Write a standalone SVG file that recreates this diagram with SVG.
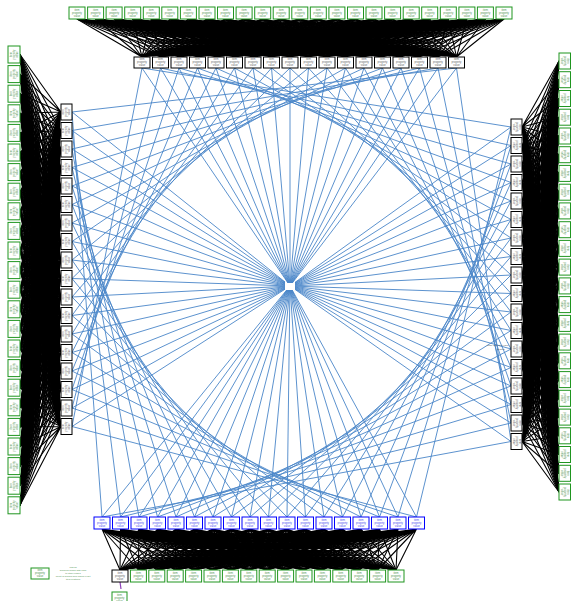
<svg xmlns="http://www.w3.org/2000/svg" xmlns:xlink="http://www.w3.org/1999/xlink" width="571" height="601" viewBox="0 0 571 601">
<style>
.g{fill:#fff;stroke:#1f951f;stroke-width:1}
.k{fill:#fff;stroke:#000;stroke-width:1}
.b{fill:#fff;stroke:#0000ff;stroke-width:1}
.tg{fill:#4f944f}
.tk{fill:#666}
.tb{fill:#4a4af0}
.e path{fill:none;stroke:#4a86c8;stroke-width:0.9}
</style>
<defs>
<g id="lh" font-family="'Liberation Sans',Arial,sans-serif" font-size="2.7" text-anchor="middle"><text x="8" y="3.9">item</text><text x="8" y="6.9">property</text><text x="8" y="9.9">value</text></g>
<use id="lvl" href="#lh" transform="translate(0,16) rotate(-90)"/>
<use id="lvr" href="#lh" transform="translate(12,0) rotate(90)"/>
<path id="fT" fill="none" stroke="#000" stroke-width="1.1" vector-effect="non-scaling-stroke" d="M0 0L77 1M0 0L95.6 1M0 0L114.1 1M0 0L132.7 1M0 0L151.3 1M0 0L169.8 1M0 0L188.4 1M0 0L207 1M0 0L225.5 1M0 0L244.1 1M0 0L262.7 1M0 0L281.2 1M0 0L299.8 1M0 0L318.3 1M0 0L336.9 1M0 0L355.5 1M0 0L374 1M0 0L392.6 1M0 0L411.2 1M0 0L429.7 1M0 0L448.3 1M0 0L466.9 1M0 0L485.4 1M0 0L504 1"/>
<path id="fL" fill="none" stroke="#000" stroke-width="1.1" vector-effect="non-scaling-stroke" d="M0 0L1 54.5M0 0L1 74.1M0 0L1 93.7M0 0L1 113.3M0 0L1 132.9M0 0L1 152.5M0 0L1 172.1M0 0L1 191.7M0 0L1 211.3M0 0L1 230.9M0 0L1 250.5M0 0L1 270.1M0 0L1 289.7M0 0L1 309.3M0 0L1 328.9M0 0L1 348.5M0 0L1 368.1M0 0L1 387.7M0 0L1 407.3M0 0L1 426.9M0 0L1 446.5M0 0L1 466.1M0 0L1 485.7M0 0L1 505.3"/>
<path id="fR" fill="none" stroke="#000" stroke-width="1.1" vector-effect="non-scaling-stroke" d="M0 0L1 61M0 0L1 79.7M0 0L1 98.5M0 0L1 117.2M0 0L1 136M0 0L1 154.7M0 0L1 173.4M0 0L1 192.2M0 0L1 210.9M0 0L1 229.7M0 0L1 248.4M0 0L1 267.1M0 0L1 285.9M0 0L1 304.6M0 0L1 323.4M0 0L1 342.1M0 0L1 360.8M0 0L1 379.6M0 0L1 398.3M0 0L1 417.1M0 0L1 435.8M0 0L1 454.5M0 0L1 473.3M0 0L1 492"/>
<path id="fB" fill="none" stroke="#000" stroke-width="1.1" vector-effect="non-scaling-stroke" d="M0 0L120 1M0 0L138.4 1M0 0L156.8 1M0 0L175.2 1M0 0L193.6 1M0 0L212 1M0 0L230.4 1M0 0L248.8 1M0 0L267.2 1M0 0L285.6 1M0 0L304 1M0 0L322.4 1M0 0L340.8 1M0 0L359.2 1M0 0L377.6 1M0 0L396 1"/>
</defs>
<rect width="571" height="601" fill="#fff"/>
<g id="connectors">
<g id="mesh-top">
<use href="#fT" transform="matrix(1 0 -142 -38 142 57)"/><use href="#fT" transform="matrix(1 0 -160.5 -38 160.5 57)"/><use href="#fT" transform="matrix(1 0 -179 -38 179 57)"/><use href="#fT" transform="matrix(1 0 -197.5 -38 197.5 57)"/><use href="#fT" transform="matrix(1 0 -216 -38 216 57)"/><use href="#fT" transform="matrix(1 0 -234.5 -38 234.5 57)"/><use href="#fT" transform="matrix(1 0 -253 -38 253 57)"/><use href="#fT" transform="matrix(1 0 -271.5 -38 271.5 57)"/><use href="#fT" transform="matrix(1 0 -290 -38 290 57)"/><use href="#fT" transform="matrix(1 0 -308.5 -38 308.5 57)"/><use href="#fT" transform="matrix(1 0 -327 -38 327 57)"/><use href="#fT" transform="matrix(1 0 -345.5 -38 345.5 57)"/><use href="#fT" transform="matrix(1 0 -364 -38 364 57)"/><use href="#fT" transform="matrix(1 0 -382.5 -38 382.5 57)"/><use href="#fT" transform="matrix(1 0 -401 -38 401 57)"/><use href="#fT" transform="matrix(1 0 -419.5 -38 419.5 57)"/><use href="#fT" transform="matrix(1 0 -438 -38 438 57)"/><use href="#fT" transform="matrix(1 0 -456.5 -38 456.5 57)"/>
</g>
<g id="mesh-left">
<use href="#fL" transform="matrix(-41 -112 0 1 61 112)"/><use href="#fL" transform="matrix(-41 -130.5 0 1 61 130.5)"/><use href="#fL" transform="matrix(-41 -149 0 1 61 149)"/><use href="#fL" transform="matrix(-41 -167.5 0 1 61 167.5)"/><use href="#fL" transform="matrix(-41 -186 0 1 61 186)"/><use href="#fL" transform="matrix(-41 -204.5 0 1 61 204.5)"/><use href="#fL" transform="matrix(-41 -223 0 1 61 223)"/><use href="#fL" transform="matrix(-41 -241.5 0 1 61 241.5)"/><use href="#fL" transform="matrix(-41 -260 0 1 61 260)"/><use href="#fL" transform="matrix(-41 -278.5 0 1 61 278.5)"/><use href="#fL" transform="matrix(-41 -297 0 1 61 297)"/><use href="#fL" transform="matrix(-41 -315.5 0 1 61 315.5)"/><use href="#fL" transform="matrix(-41 -334 0 1 61 334)"/><use href="#fL" transform="matrix(-41 -352.5 0 1 61 352.5)"/><use href="#fL" transform="matrix(-41 -371 0 1 61 371)"/><use href="#fL" transform="matrix(-41 -389.5 0 1 61 389.5)"/><use href="#fL" transform="matrix(-41 -408 0 1 61 408)"/><use href="#fL" transform="matrix(-41 -426.5 0 1 61 426.5)"/>
</g>
<g id="mesh-right">
<use href="#fR" transform="matrix(37 -127 0 1 522 127)"/><use href="#fR" transform="matrix(37 -145.5 0 1 522 145.5)"/><use href="#fR" transform="matrix(37 -164 0 1 522 164)"/><use href="#fR" transform="matrix(37 -182.5 0 1 522 182.5)"/><use href="#fR" transform="matrix(37 -201 0 1 522 201)"/><use href="#fR" transform="matrix(37 -219.5 0 1 522 219.5)"/><use href="#fR" transform="matrix(37 -238 0 1 522 238)"/><use href="#fR" transform="matrix(37 -256.5 0 1 522 256.5)"/><use href="#fR" transform="matrix(37 -275 0 1 522 275)"/><use href="#fR" transform="matrix(37 -293.5 0 1 522 293.5)"/><use href="#fR" transform="matrix(37 -312 0 1 522 312)"/><use href="#fR" transform="matrix(37 -330.5 0 1 522 330.5)"/><use href="#fR" transform="matrix(37 -349 0 1 522 349)"/><use href="#fR" transform="matrix(37 -367.5 0 1 522 367.5)"/><use href="#fR" transform="matrix(37 -386 0 1 522 386)"/><use href="#fR" transform="matrix(37 -404.5 0 1 522 404.5)"/><use href="#fR" transform="matrix(37 -423 0 1 522 423)"/><use href="#fR" transform="matrix(37 -441.5 0 1 522 441.5)"/>
</g>
<g id="mesh-bottom">
<use href="#fB" transform="matrix(1 0 -102 41 102 529)"/><use href="#fB" transform="matrix(1 0 -120.5 41 120.5 529)"/><use href="#fB" transform="matrix(1 0 -139 41 139 529)"/><use href="#fB" transform="matrix(1 0 -157.5 41 157.5 529)"/><use href="#fB" transform="matrix(1 0 -176 41 176 529)"/><use href="#fB" transform="matrix(1 0 -194.5 41 194.5 529)"/><use href="#fB" transform="matrix(1 0 -213 41 213 529)"/><use href="#fB" transform="matrix(1 0 -231.5 41 231.5 529)"/><use href="#fB" transform="matrix(1 0 -250 41 250 529)"/><use href="#fB" transform="matrix(1 0 -268.5 41 268.5 529)"/><use href="#fB" transform="matrix(1 0 -287 41 287 529)"/><use href="#fB" transform="matrix(1 0 -305.5 41 305.5 529)"/><use href="#fB" transform="matrix(1 0 -324 41 324 529)"/><use href="#fB" transform="matrix(1 0 -342.5 41 342.5 529)"/><use href="#fB" transform="matrix(1 0 -361 41 361 529)"/><use href="#fB" transform="matrix(1 0 -379.5 41 379.5 529)"/><use href="#fB" transform="matrix(1 0 -398 41 398 529)"/><use href="#fB" transform="matrix(1 0 -416.5 41 416.5 529)"/>
</g>
<g class="e" id="blue-edges">
<path d="M142 68L288 283"/><path d="M160.5 68L288.2 283"/><path d="M179 68L288.5 283"/><path d="M197.5 68L288.7 283"/><path d="M216 68L289 283"/><path d="M234.5 68L289.2 283"/><path d="M253 68L289.5 283"/><path d="M271.5 68L289.7 283"/><path d="M290 68L290 283"/><path d="M308.5 68L290.3 283"/><path d="M327 68L290.5 283"/><path d="M345.5 68L290.8 283"/><path d="M364 68L291 283"/><path d="M382.5 68L291.3 283"/><path d="M401 68L291.5 283"/><path d="M419.5 68L291.8 283"/><path d="M438 68L292 283"/><path d="M456.5 68L292.3 283"/>
<path d="M102 517L286.7 290"/><path d="M120.5 517L287.1 290"/><path d="M139 517L287.4 290"/><path d="M157.5 517L287.7 290"/><path d="M176 517L288 290"/><path d="M194.5 517L288.3 290"/><path d="M213 517L288.7 290"/><path d="M231.5 517L289 290"/><path d="M250 517L289.3 290"/><path d="M268.5 517L289.6 290"/><path d="M287 517L289.9 290"/><path d="M305.5 517L290.3 290"/><path d="M324 517L290.6 290"/><path d="M342.5 517L290.9 290"/><path d="M361 517L291.2 290"/><path d="M379.5 517L291.5 290"/><path d="M398 517L291.9 290"/><path d="M416.5 517L292.2 290"/>
<path d="M72 112L285 282"/><path d="M72 130.5L285 282.4"/><path d="M72 149L285 282.8"/><path d="M72 167.5L285 283.3"/><path d="M72 186L285 283.7"/><path d="M72 204.5L285 284.1"/><path d="M72 223L285 284.6"/><path d="M72 241.5L285 285"/><path d="M72 260L285 285.4"/><path d="M72 278.5L285 285.8"/><path d="M72 297L285 286.3"/><path d="M72 315.5L285 286.7"/><path d="M72 334L285 287.1"/><path d="M72 352.5L285 287.5"/><path d="M72 371L285 288"/><path d="M72 389.5L285 288.4"/><path d="M72 408L285 288.8"/><path d="M72 426.5L285 289.2"/>
<path d="M511 127L295 282.4"/><path d="M511 145.5L295 282.8"/><path d="M511 164L295 283.2"/><path d="M511 182.5L295 283.6"/><path d="M511 201L295 284.1"/><path d="M511 219.5L295 284.5"/><path d="M511 238L295 284.9"/><path d="M511 256.5L295 285.3"/><path d="M511 275L295 285.8"/><path d="M511 293.5L295 286.2"/><path d="M511 312L295 286.6"/><path d="M511 330.5L295 287"/><path d="M511 349L295 287.4"/><path d="M511 367.5L295 287.8"/><path d="M511 386L295 288.2"/><path d="M511 404.5L295 288.6"/><path d="M511 423L295 289"/><path d="M511 441.5L295 289.4"/>
<path d="M142 68L72 426.5"/><path d="M160.5 68L72 408"/><path d="M179 68L72 389.5"/><path d="M197.5 68L72 371"/><path d="M216 68L72 352.5"/><path d="M234.5 68L72 334"/><path d="M253 68L72 315.5"/><path d="M271.5 68L72 297"/><path d="M290 68L72 278.5"/><path d="M308.5 68L72 260"/><path d="M327 68L72 241.5"/><path d="M345.5 68L72 223"/><path d="M364 68L72 204.5"/><path d="M382.5 68L72 186"/><path d="M401 68L72 167.5"/><path d="M419.5 68L72 149"/><path d="M438 68L72 130.5"/><path d="M456.5 68L72 112"/>
<path d="M142 68L511 127"/><path d="M160.5 68L511 145.5"/><path d="M179 68L511 164"/><path d="M197.5 68L511 182.5"/><path d="M216 68L511 201"/><path d="M234.5 68L511 219.5"/><path d="M253 68L511 238"/><path d="M271.5 68L511 256.5"/><path d="M290 68L511 275"/><path d="M308.5 68L511 293.5"/><path d="M327 68L511 312"/><path d="M345.5 68L511 330.5"/><path d="M364 68L511 349"/><path d="M382.5 68L511 367.5"/><path d="M401 68L511 386"/><path d="M419.5 68L511 404.5"/><path d="M438 68L511 423"/><path d="M456.5 68L511 441.5"/>
<path d="M102 517L72 112"/><path d="M120.5 517L72 130.5"/><path d="M139 517L72 149"/><path d="M157.5 517L72 167.5"/><path d="M176 517L72 186"/><path d="M194.5 517L72 204.5"/><path d="M213 517L72 223"/><path d="M231.5 517L72 241.5"/><path d="M250 517L72 260"/><path d="M268.5 517L72 278.5"/><path d="M287 517L72 297"/><path d="M305.5 517L72 315.5"/><path d="M324 517L72 334"/><path d="M342.5 517L72 352.5"/><path d="M361 517L72 371"/><path d="M379.5 517L72 389.5"/><path d="M398 517L72 408"/><path d="M416.5 517L72 426.5"/>
<path d="M102 517L511 441.5"/><path d="M120.5 517L511 423"/><path d="M139 517L511 404.5"/><path d="M157.5 517L511 386"/><path d="M176 517L511 367.5"/><path d="M194.5 517L511 349"/><path d="M213 517L511 330.5"/><path d="M231.5 517L511 312"/><path d="M250 517L511 293.5"/><path d="M268.5 517L511 275"/><path d="M287 517L511 256.5"/><path d="M305.5 517L511 238"/><path d="M324 517L511 219.5"/><path d="M342.5 517L511 201"/><path d="M361 517L511 182.5"/><path d="M379.5 517L511 164"/><path d="M398 517L511 145.5"/><path d="M416.5 517L511 127"/>
</g>
<path id="purple-edge" d="M120 582L121 589" fill="none" stroke="#8e3fb8" stroke-width="1.2"/>
</g>
<g id="nodes-top-green">
<g id="tg0"><rect class="g" x="69" y="7" width="16" height="12"/><use href="#lh" class="tg" x="69" y="7"/></g>
<g id="tg1"><rect class="g" x="87.6" y="7" width="16" height="12"/><use href="#lh" class="tg" x="87.6" y="7"/></g>
<g id="tg2"><rect class="g" x="106.1" y="7" width="16" height="12"/><use href="#lh" class="tg" x="106.1" y="7"/></g>
<g id="tg3"><rect class="g" x="124.7" y="7" width="16" height="12"/><use href="#lh" class="tg" x="124.7" y="7"/></g>
<g id="tg4"><rect class="g" x="143.3" y="7" width="16" height="12"/><use href="#lh" class="tg" x="143.3" y="7"/></g>
<g id="tg5"><rect class="g" x="161.8" y="7" width="16" height="12"/><use href="#lh" class="tg" x="161.8" y="7"/></g>
<g id="tg6"><rect class="g" x="180.4" y="7" width="16" height="12"/><use href="#lh" class="tg" x="180.4" y="7"/></g>
<g id="tg7"><rect class="g" x="199" y="7" width="16" height="12"/><use href="#lh" class="tg" x="199" y="7"/></g>
<g id="tg8"><rect class="g" x="217.5" y="7" width="16" height="12"/><use href="#lh" class="tg" x="217.5" y="7"/></g>
<g id="tg9"><rect class="g" x="236.1" y="7" width="16" height="12"/><use href="#lh" class="tg" x="236.1" y="7"/></g>
<g id="tg10"><rect class="g" x="254.7" y="7" width="16" height="12"/><use href="#lh" class="tg" x="254.7" y="7"/></g>
<g id="tg11"><rect class="g" x="273.2" y="7" width="16" height="12"/><use href="#lh" class="tg" x="273.2" y="7"/></g>
<g id="tg12"><rect class="g" x="291.8" y="7" width="16" height="12"/><use href="#lh" class="tg" x="291.8" y="7"/></g>
<g id="tg13"><rect class="g" x="310.3" y="7" width="16" height="12"/><use href="#lh" class="tg" x="310.3" y="7"/></g>
<g id="tg14"><rect class="g" x="328.9" y="7" width="16" height="12"/><use href="#lh" class="tg" x="328.9" y="7"/></g>
<g id="tg15"><rect class="g" x="347.5" y="7" width="16" height="12"/><use href="#lh" class="tg" x="347.5" y="7"/></g>
<g id="tg16"><rect class="g" x="366" y="7" width="16" height="12"/><use href="#lh" class="tg" x="366" y="7"/></g>
<g id="tg17"><rect class="g" x="384.6" y="7" width="16" height="12"/><use href="#lh" class="tg" x="384.6" y="7"/></g>
<g id="tg18"><rect class="g" x="403.2" y="7" width="16" height="12"/><use href="#lh" class="tg" x="403.2" y="7"/></g>
<g id="tg19"><rect class="g" x="421.7" y="7" width="16" height="12"/><use href="#lh" class="tg" x="421.7" y="7"/></g>
<g id="tg20"><rect class="g" x="440.3" y="7" width="16" height="12"/><use href="#lh" class="tg" x="440.3" y="7"/></g>
<g id="tg21"><rect class="g" x="458.9" y="7" width="16" height="12"/><use href="#lh" class="tg" x="458.9" y="7"/></g>
<g id="tg22"><rect class="g" x="477.4" y="7" width="16" height="12"/><use href="#lh" class="tg" x="477.4" y="7"/></g>
<g id="tg23"><rect class="g" x="496" y="7" width="16" height="12"/><use href="#lh" class="tg" x="496" y="7"/></g>
</g>
<g id="nodes-top-black">
<g id="tk0"><rect class="k" x="134" y="57" width="16" height="11"/><use href="#lh" class="tk" x="134" y="56.5"/></g>
<g id="tk1"><rect class="k" x="152.5" y="57" width="16" height="11"/><use href="#lh" class="tk" x="152.5" y="56.5"/></g>
<g id="tk2"><rect class="k" x="171" y="57" width="16" height="11"/><use href="#lh" class="tk" x="171" y="56.5"/></g>
<g id="tk3"><rect class="k" x="189.5" y="57" width="16" height="11"/><use href="#lh" class="tk" x="189.5" y="56.5"/></g>
<g id="tk4"><rect class="k" x="208" y="57" width="16" height="11"/><use href="#lh" class="tk" x="208" y="56.5"/></g>
<g id="tk5"><rect class="k" x="226.5" y="57" width="16" height="11"/><use href="#lh" class="tk" x="226.5" y="56.5"/></g>
<g id="tk6"><rect class="k" x="245" y="57" width="16" height="11"/><use href="#lh" class="tk" x="245" y="56.5"/></g>
<g id="tk7"><rect class="k" x="263.5" y="57" width="16" height="11"/><use href="#lh" class="tk" x="263.5" y="56.5"/></g>
<g id="tk8"><rect class="k" x="282" y="57" width="16" height="11"/><use href="#lh" class="tk" x="282" y="56.5"/></g>
<g id="tk9"><rect class="k" x="300.5" y="57" width="16" height="11"/><use href="#lh" class="tk" x="300.5" y="56.5"/></g>
<g id="tk10"><rect class="k" x="319" y="57" width="16" height="11"/><use href="#lh" class="tk" x="319" y="56.5"/></g>
<g id="tk11"><rect class="k" x="337.5" y="57" width="16" height="11"/><use href="#lh" class="tk" x="337.5" y="56.5"/></g>
<g id="tk12"><rect class="k" x="356" y="57" width="16" height="11"/><use href="#lh" class="tk" x="356" y="56.5"/></g>
<g id="tk13"><rect class="k" x="374.5" y="57" width="16" height="11"/><use href="#lh" class="tk" x="374.5" y="56.5"/></g>
<g id="tk14"><rect class="k" x="393" y="57" width="16" height="11"/><use href="#lh" class="tk" x="393" y="56.5"/></g>
<g id="tk15"><rect class="k" x="411.5" y="57" width="16" height="11"/><use href="#lh" class="tk" x="411.5" y="56.5"/></g>
<g id="tk16"><rect class="k" x="430" y="57" width="16" height="11"/><use href="#lh" class="tk" x="430" y="56.5"/></g>
<g id="tk17"><rect class="k" x="448.5" y="57" width="16" height="11"/><use href="#lh" class="tk" x="448.5" y="56.5"/></g>
</g>
<g id="nodes-left-green">
<g id="lg0"><rect class="g" x="8" y="46" width="12" height="17"/><use href="#lvl" class="tg" x="8" y="46.5"/></g>
<g id="lg1"><rect class="g" x="8" y="65.6" width="12" height="17"/><use href="#lvl" class="tg" x="8" y="66.1"/></g>
<g id="lg2"><rect class="g" x="8" y="85.2" width="12" height="17"/><use href="#lvl" class="tg" x="8" y="85.7"/></g>
<g id="lg3"><rect class="g" x="8" y="104.8" width="12" height="17"/><use href="#lvl" class="tg" x="8" y="105.3"/></g>
<g id="lg4"><rect class="g" x="8" y="124.4" width="12" height="17"/><use href="#lvl" class="tg" x="8" y="124.9"/></g>
<g id="lg5"><rect class="g" x="8" y="144" width="12" height="17"/><use href="#lvl" class="tg" x="8" y="144.5"/></g>
<g id="lg6"><rect class="g" x="8" y="163.6" width="12" height="17"/><use href="#lvl" class="tg" x="8" y="164.1"/></g>
<g id="lg7"><rect class="g" x="8" y="183.2" width="12" height="17"/><use href="#lvl" class="tg" x="8" y="183.7"/></g>
<g id="lg8"><rect class="g" x="8" y="202.8" width="12" height="17"/><use href="#lvl" class="tg" x="8" y="203.3"/></g>
<g id="lg9"><rect class="g" x="8" y="222.4" width="12" height="17"/><use href="#lvl" class="tg" x="8" y="222.9"/></g>
<g id="lg10"><rect class="g" x="8" y="242" width="12" height="17"/><use href="#lvl" class="tg" x="8" y="242.5"/></g>
<g id="lg11"><rect class="g" x="8" y="261.6" width="12" height="17"/><use href="#lvl" class="tg" x="8" y="262.1"/></g>
<g id="lg12"><rect class="g" x="8" y="281.2" width="12" height="17"/><use href="#lvl" class="tg" x="8" y="281.7"/></g>
<g id="lg13"><rect class="g" x="8" y="300.8" width="12" height="17"/><use href="#lvl" class="tg" x="8" y="301.3"/></g>
<g id="lg14"><rect class="g" x="8" y="320.4" width="12" height="17"/><use href="#lvl" class="tg" x="8" y="320.9"/></g>
<g id="lg15"><rect class="g" x="8" y="340" width="12" height="17"/><use href="#lvl" class="tg" x="8" y="340.5"/></g>
<g id="lg16"><rect class="g" x="8" y="359.6" width="12" height="17"/><use href="#lvl" class="tg" x="8" y="360.1"/></g>
<g id="lg17"><rect class="g" x="8" y="379.2" width="12" height="17"/><use href="#lvl" class="tg" x="8" y="379.7"/></g>
<g id="lg18"><rect class="g" x="8" y="398.8" width="12" height="17"/><use href="#lvl" class="tg" x="8" y="399.3"/></g>
<g id="lg19"><rect class="g" x="8" y="418.4" width="12" height="17"/><use href="#lvl" class="tg" x="8" y="418.9"/></g>
<g id="lg20"><rect class="g" x="8" y="438" width="12" height="17"/><use href="#lvl" class="tg" x="8" y="438.5"/></g>
<g id="lg21"><rect class="g" x="8" y="457.6" width="12" height="17"/><use href="#lvl" class="tg" x="8" y="458.1"/></g>
<g id="lg22"><rect class="g" x="8" y="477.2" width="12" height="17"/><use href="#lvl" class="tg" x="8" y="477.7"/></g>
<g id="lg23"><rect class="g" x="8" y="496.8" width="12" height="17"/><use href="#lvl" class="tg" x="8" y="497.3"/></g>
</g>
<g id="nodes-left-black">
<g id="lk0"><rect class="k" x="61" y="104" width="11" height="16"/><use href="#lvl" class="tk" x="60.5" y="104"/></g>
<g id="lk1"><rect class="k" x="61" y="122.5" width="11" height="16"/><use href="#lvl" class="tk" x="60.5" y="122.5"/></g>
<g id="lk2"><rect class="k" x="61" y="141" width="11" height="16"/><use href="#lvl" class="tk" x="60.5" y="141"/></g>
<g id="lk3"><rect class="k" x="61" y="159.5" width="11" height="16"/><use href="#lvl" class="tk" x="60.5" y="159.5"/></g>
<g id="lk4"><rect class="k" x="61" y="178" width="11" height="16"/><use href="#lvl" class="tk" x="60.5" y="178"/></g>
<g id="lk5"><rect class="k" x="61" y="196.5" width="11" height="16"/><use href="#lvl" class="tk" x="60.5" y="196.5"/></g>
<g id="lk6"><rect class="k" x="61" y="215" width="11" height="16"/><use href="#lvl" class="tk" x="60.5" y="215"/></g>
<g id="lk7"><rect class="k" x="61" y="233.5" width="11" height="16"/><use href="#lvl" class="tk" x="60.5" y="233.5"/></g>
<g id="lk8"><rect class="k" x="61" y="252" width="11" height="16"/><use href="#lvl" class="tk" x="60.5" y="252"/></g>
<g id="lk9"><rect class="k" x="61" y="270.5" width="11" height="16"/><use href="#lvl" class="tk" x="60.5" y="270.5"/></g>
<g id="lk10"><rect class="k" x="61" y="289" width="11" height="16"/><use href="#lvl" class="tk" x="60.5" y="289"/></g>
<g id="lk11"><rect class="k" x="61" y="307.5" width="11" height="16"/><use href="#lvl" class="tk" x="60.5" y="307.5"/></g>
<g id="lk12"><rect class="k" x="61" y="326" width="11" height="16"/><use href="#lvl" class="tk" x="60.5" y="326"/></g>
<g id="lk13"><rect class="k" x="61" y="344.5" width="11" height="16"/><use href="#lvl" class="tk" x="60.5" y="344.5"/></g>
<g id="lk14"><rect class="k" x="61" y="363" width="11" height="16"/><use href="#lvl" class="tk" x="60.5" y="363"/></g>
<g id="lk15"><rect class="k" x="61" y="381.5" width="11" height="16"/><use href="#lvl" class="tk" x="60.5" y="381.5"/></g>
<g id="lk16"><rect class="k" x="61" y="400" width="11" height="16"/><use href="#lvl" class="tk" x="60.5" y="400"/></g>
<g id="lk17"><rect class="k" x="61" y="418.5" width="11" height="16"/><use href="#lvl" class="tk" x="60.5" y="418.5"/></g>
</g>
<g id="nodes-right-black">
<g id="rk0"><rect class="k" x="511" y="119" width="11" height="16"/><use href="#lvr" class="tk" x="510.5" y="119"/></g>
<g id="rk1"><rect class="k" x="511" y="137.5" width="11" height="16"/><use href="#lvr" class="tk" x="510.5" y="137.5"/></g>
<g id="rk2"><rect class="k" x="511" y="156" width="11" height="16"/><use href="#lvr" class="tk" x="510.5" y="156"/></g>
<g id="rk3"><rect class="k" x="511" y="174.5" width="11" height="16"/><use href="#lvr" class="tk" x="510.5" y="174.5"/></g>
<g id="rk4"><rect class="k" x="511" y="193" width="11" height="16"/><use href="#lvr" class="tk" x="510.5" y="193"/></g>
<g id="rk5"><rect class="k" x="511" y="211.5" width="11" height="16"/><use href="#lvr" class="tk" x="510.5" y="211.5"/></g>
<g id="rk6"><rect class="k" x="511" y="230" width="11" height="16"/><use href="#lvr" class="tk" x="510.5" y="230"/></g>
<g id="rk7"><rect class="k" x="511" y="248.5" width="11" height="16"/><use href="#lvr" class="tk" x="510.5" y="248.5"/></g>
<g id="rk8"><rect class="k" x="511" y="267" width="11" height="16"/><use href="#lvr" class="tk" x="510.5" y="267"/></g>
<g id="rk9"><rect class="k" x="511" y="285.5" width="11" height="16"/><use href="#lvr" class="tk" x="510.5" y="285.5"/></g>
<g id="rk10"><rect class="k" x="511" y="304" width="11" height="16"/><use href="#lvr" class="tk" x="510.5" y="304"/></g>
<g id="rk11"><rect class="k" x="511" y="322.5" width="11" height="16"/><use href="#lvr" class="tk" x="510.5" y="322.5"/></g>
<g id="rk12"><rect class="k" x="511" y="341" width="11" height="16"/><use href="#lvr" class="tk" x="510.5" y="341"/></g>
<g id="rk13"><rect class="k" x="511" y="359.5" width="11" height="16"/><use href="#lvr" class="tk" x="510.5" y="359.5"/></g>
<g id="rk14"><rect class="k" x="511" y="378" width="11" height="16"/><use href="#lvr" class="tk" x="510.5" y="378"/></g>
<g id="rk15"><rect class="k" x="511" y="396.5" width="11" height="16"/><use href="#lvr" class="tk" x="510.5" y="396.5"/></g>
<g id="rk16"><rect class="k" x="511" y="415" width="11" height="16"/><use href="#lvr" class="tk" x="510.5" y="415"/></g>
<g id="rk17"><rect class="k" x="511" y="433.5" width="11" height="16"/><use href="#lvr" class="tk" x="510.5" y="433.5"/></g>
</g>
<g id="nodes-right-green">
<g id="rg0"><rect class="g" x="559" y="53" width="11.5" height="16"/><use href="#lvr" class="tg" x="559" y="53"/></g>
<g id="rg1"><rect class="g" x="559" y="71.7" width="11.5" height="16"/><use href="#lvr" class="tg" x="559" y="71.7"/></g>
<g id="rg2"><rect class="g" x="559" y="90.5" width="11.5" height="16"/><use href="#lvr" class="tg" x="559" y="90.5"/></g>
<g id="rg3"><rect class="g" x="559" y="109.2" width="11.5" height="16"/><use href="#lvr" class="tg" x="559" y="109.2"/></g>
<g id="rg4"><rect class="g" x="559" y="128" width="11.5" height="16"/><use href="#lvr" class="tg" x="559" y="128"/></g>
<g id="rg5"><rect class="g" x="559" y="146.7" width="11.5" height="16"/><use href="#lvr" class="tg" x="559" y="146.7"/></g>
<g id="rg6"><rect class="g" x="559" y="165.4" width="11.5" height="16"/><use href="#lvr" class="tg" x="559" y="165.4"/></g>
<g id="rg7"><rect class="g" x="559" y="184.2" width="11.5" height="16"/><use href="#lvr" class="tg" x="559" y="184.2"/></g>
<g id="rg8"><rect class="g" x="559" y="202.9" width="11.5" height="16"/><use href="#lvr" class="tg" x="559" y="202.9"/></g>
<g id="rg9"><rect class="g" x="559" y="221.7" width="11.5" height="16"/><use href="#lvr" class="tg" x="559" y="221.7"/></g>
<g id="rg10"><rect class="g" x="559" y="240.4" width="11.5" height="16"/><use href="#lvr" class="tg" x="559" y="240.4"/></g>
<g id="rg11"><rect class="g" x="559" y="259.1" width="11.5" height="16"/><use href="#lvr" class="tg" x="559" y="259.1"/></g>
<g id="rg12"><rect class="g" x="559" y="277.9" width="11.5" height="16"/><use href="#lvr" class="tg" x="559" y="277.9"/></g>
<g id="rg13"><rect class="g" x="559" y="296.6" width="11.5" height="16"/><use href="#lvr" class="tg" x="559" y="296.6"/></g>
<g id="rg14"><rect class="g" x="559" y="315.4" width="11.5" height="16"/><use href="#lvr" class="tg" x="559" y="315.4"/></g>
<g id="rg15"><rect class="g" x="559" y="334.1" width="11.5" height="16"/><use href="#lvr" class="tg" x="559" y="334.1"/></g>
<g id="rg16"><rect class="g" x="559" y="352.8" width="11.5" height="16"/><use href="#lvr" class="tg" x="559" y="352.8"/></g>
<g id="rg17"><rect class="g" x="559" y="371.6" width="11.5" height="16"/><use href="#lvr" class="tg" x="559" y="371.6"/></g>
<g id="rg18"><rect class="g" x="559" y="390.3" width="11.5" height="16"/><use href="#lvr" class="tg" x="559" y="390.3"/></g>
<g id="rg19"><rect class="g" x="559" y="409.1" width="11.5" height="16"/><use href="#lvr" class="tg" x="559" y="409.1"/></g>
<g id="rg20"><rect class="g" x="559" y="427.8" width="11.5" height="16"/><use href="#lvr" class="tg" x="559" y="427.8"/></g>
<g id="rg21"><rect class="g" x="559" y="446.5" width="11.5" height="16"/><use href="#lvr" class="tg" x="559" y="446.5"/></g>
<g id="rg22"><rect class="g" x="559" y="465.3" width="11.5" height="16"/><use href="#lvr" class="tg" x="559" y="465.3"/></g>
<g id="rg23"><rect class="g" x="559" y="484" width="11.5" height="16"/><use href="#lvr" class="tg" x="559" y="484"/></g>
</g>
<g id="nodes-bottom-blue">
<g id="bb0"><rect class="b" x="94" y="517" width="16" height="12"/><use href="#lh" class="tb" x="94" y="517"/></g>
<g id="bb1"><rect class="b" x="112.5" y="517" width="16" height="12"/><use href="#lh" class="tb" x="112.5" y="517"/></g>
<g id="bb2"><rect class="b" x="131" y="517" width="16" height="12"/><use href="#lh" class="tb" x="131" y="517"/></g>
<g id="bb3"><rect class="b" x="149.5" y="517" width="16" height="12"/><use href="#lh" class="tb" x="149.5" y="517"/></g>
<g id="bb4"><rect class="b" x="168" y="517" width="16" height="12"/><use href="#lh" class="tb" x="168" y="517"/></g>
<g id="bb5"><rect class="b" x="186.5" y="517" width="16" height="12"/><use href="#lh" class="tb" x="186.5" y="517"/></g>
<g id="bb6"><rect class="b" x="205" y="517" width="16" height="12"/><use href="#lh" class="tb" x="205" y="517"/></g>
<g id="bb7"><rect class="b" x="223.5" y="517" width="16" height="12"/><use href="#lh" class="tb" x="223.5" y="517"/></g>
<g id="bb8"><rect class="b" x="242" y="517" width="16" height="12"/><use href="#lh" class="tb" x="242" y="517"/></g>
<g id="bb9"><rect class="b" x="260.5" y="517" width="16" height="12"/><use href="#lh" class="tb" x="260.5" y="517"/></g>
<g id="bb10"><rect class="b" x="279" y="517" width="16" height="12"/><use href="#lh" class="tb" x="279" y="517"/></g>
<g id="bb11"><rect class="b" x="297.5" y="517" width="16" height="12"/><use href="#lh" class="tb" x="297.5" y="517"/></g>
<g id="bb12"><rect class="b" x="316" y="517" width="16" height="12"/><use href="#lh" class="tb" x="316" y="517"/></g>
<g id="bb13"><rect class="b" x="334.5" y="517" width="16" height="12"/><use href="#lh" class="tb" x="334.5" y="517"/></g>
<g id="bb14"><rect class="b" x="353" y="517" width="16" height="12"/><use href="#lh" class="tb" x="353" y="517"/></g>
<g id="bb15"><rect class="b" x="371.5" y="517" width="16" height="12"/><use href="#lh" class="tb" x="371.5" y="517"/></g>
<g id="bb16"><rect class="b" x="390" y="517" width="16" height="12"/><use href="#lh" class="tb" x="390" y="517"/></g>
<g id="bb17"><rect class="b" x="408.5" y="517" width="16" height="12"/><use href="#lh" class="tb" x="408.5" y="517"/></g>
</g>
<g id="nodes-bottom-green">
<g id="bg0"><rect class="k" x="112" y="570" width="16" height="12"/><use href="#lh" class="tk" x="112" y="570"/></g>
<g id="bg1"><rect class="g" x="130.4" y="570" width="16" height="12"/><use href="#lh" class="tg" x="130.4" y="570"/></g>
<g id="bg2"><rect class="g" x="148.8" y="570" width="16" height="12"/><use href="#lh" class="tg" x="148.8" y="570"/></g>
<g id="bg3"><rect class="g" x="167.2" y="570" width="16" height="12"/><use href="#lh" class="tg" x="167.2" y="570"/></g>
<g id="bg4"><rect class="g" x="185.6" y="570" width="16" height="12"/><use href="#lh" class="tg" x="185.6" y="570"/></g>
<g id="bg5"><rect class="g" x="204" y="570" width="16" height="12"/><use href="#lh" class="tg" x="204" y="570"/></g>
<g id="bg6"><rect class="g" x="222.4" y="570" width="16" height="12"/><use href="#lh" class="tg" x="222.4" y="570"/></g>
<g id="bg7"><rect class="g" x="240.8" y="570" width="16" height="12"/><use href="#lh" class="tg" x="240.8" y="570"/></g>
<g id="bg8"><rect class="g" x="259.2" y="570" width="16" height="12"/><use href="#lh" class="tg" x="259.2" y="570"/></g>
<g id="bg9"><rect class="g" x="277.6" y="570" width="16" height="12"/><use href="#lh" class="tg" x="277.6" y="570"/></g>
<g id="bg10"><rect class="g" x="296" y="570" width="16" height="12"/><use href="#lh" class="tg" x="296" y="570"/></g>
<g id="bg11"><rect class="g" x="314.4" y="570" width="16" height="12"/><use href="#lh" class="tg" x="314.4" y="570"/></g>
<g id="bg12"><rect class="g" x="332.8" y="570" width="16" height="12"/><use href="#lh" class="tg" x="332.8" y="570"/></g>
<g id="bg13"><rect class="g" x="351.2" y="570" width="16" height="12"/><use href="#lh" class="tg" x="351.2" y="570"/></g>
<g id="bg14"><rect class="g" x="369.6" y="570" width="16" height="12"/><use href="#lh" class="tg" x="369.6" y="570"/></g>
<g id="bg15"><rect class="g" x="388" y="570" width="16" height="12"/><use href="#lh" class="tg" x="388" y="570"/></g>
<g id="bx0"><rect class="g" x="112" y="592" width="15" height="12"/><use href="#lh" class="tg" x="111.5" y="592"/></g>
</g>
<g id="legend">
<rect class="g" x="31" y="568" width="18" height="11"/><use href="#lh" class="tg" x="32" y="567.5"/>
<g font-family="'Liberation Sans',Arial,sans-serif" font-size="2.4" text-anchor="middle" fill="#4f944f">
<text x="73" y="568">legend</text>
<text x="73" y="571">grouped nodes with links</text>
<text x="73" y="574">to other nodes</text>
<text x="73" y="577">count of groups and nodes in set</text>
<text x="73" y="580">item relations</text>
</g>
</g>
<g id="edge-label" font-family="'Liberation Sans',Arial,sans-serif" font-size="2.4" fill="#555">
<text x="487" y="346">edge label text value</text>
<text x="497" y="349.5">relation</text>
</g>
</svg>
